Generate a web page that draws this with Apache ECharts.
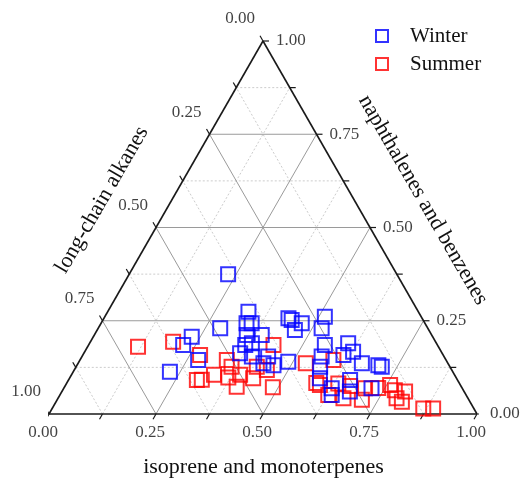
<!DOCTYPE html>
<html>
<head>
<meta charset="utf-8">
<script src="https://cdn.jsdelivr.net/npm/echarts@6/dist/echarts.min.js"></script>
<style>
  html, body { margin: 0; padding: 0; background: #fff; }
  #chart { width: 527px; height: 480px; }
</style>
</head>
<body>
<div id="chart"></div>
<script>
  // ternary fractions: isoprene (bottom axis), naphthalenes (right axis), alkanes (left axis)
  var winterIsoprene = [0.231,0.329,0.340,0.352,0.285,0.230,0.221,0.276,0.226,0.356,0.391,0.366,0.365,0.397,0.435,0.433,0.459,0.489,0.431,0.441,
                        0.469,0.462,0.514,0.522,0.552,0.560,0.570,0.585,0.604,0.609,0.627,0.663,0.704,0.714,0.658,0.673,0.626,0.635,0.719,0.379];
  var winterNaphth   = [0.375,0.274,0.243,0.243,0.230,0.207,0.185,0.145,0.113,0.212,0.212,0.185,0.163,0.154,0.154,0.136,0.131,0.140,0.257,0.252,
                        0.243,0.225,0.261,0.230,0.185,0.154,0.127,0.096,0.190,0.158,0.167,0.136,0.131,0.127,0.091,0.060,0.069,0.051,0.069,0.190];
  var winterAlkanes  = [0.394,0.397,0.417,0.405,0.485,0.563,0.594,0.579,0.661,0.432,0.397,0.449,0.472,0.449,0.411,0.431,0.410,0.371,0.312,0.307,
                        0.288,0.313,0.225,0.248,0.263,0.286,0.303,0.319,0.206,0.233,0.206,0.201,0.165,0.159,0.251,0.267,0.305,0.314,0.212,0.431];

  var summerIsoprene = [0.118,0.193,0.274,0.300,0.311,0.333,0.343,0.363,0.370,0.394,0.402,0.429,0.422,0.450,0.432,0.487,0.532,0.583,0.594,0.592,
                        0.635,0.627,0.667,0.712,0.704,0.734,0.758,0.776,0.802,0.791,0.808,0.867,0.890,0.666];
  var summerNaphth   = [0.180,0.194,0.158,0.091,0.092,0.105,0.145,0.127,0.098,0.105,0.073,0.096,0.127,0.118,0.185,0.072,0.136,0.083,0.078,0.145,
                        0.082,0.051,0.042,0.038,0.069,0.070,0.078,0.064,0.060,0.042,0.033,0.015,0.015,0.075];
  var summerAlkanes  = [0.702,0.613,0.568,0.609,0.597,0.562,0.512,0.510,0.532,0.501,0.525,0.475,0.451,0.432,0.383,0.441,0.332,0.334,0.328,0.263,
                        0.283,0.322,0.291,0.250,0.227,0.196,0.164,0.160,0.138,0.167,0.159,0.118,0.095,0.259];

  var majorTicks = [0, 0.25, 0.5, 0.75, 1];
  var tickLabels = ['0.00', '0.25', '0.50', '0.75', '1.00'];
  var minorTicks = [0.125, 0.375, 0.625, 0.875];

  var FONT = '"Liberation Serif", "Times New Roman", serif';
  var TEXT = '#111';
  var gridW = 428, gridH = 373;

  // ternary -> plane: x = a + b/2, y = b (y scaled by grid height)
  function toXY(a, b) {
    return [a + b / 2, b];
  }

  function ternaryPoints(aArr, bArr, cArr) {
    var out = [];
    for (var i = 0; i < aArr.length; i++) {
      var s = aArr[i] + bArr[i] + cArr[i];
      out.push(toXY(aArr[i] / s, bArr[i] / s));
    }
    return out;
  }

  function seg(p1, p2, style) {
    return {
      type: 'line', data: [p1, p2], symbol: 'none', silent: true, clip: false,
      lineStyle: style, z: 1
    };
  }

  var series = [];
  var majorStyle = { color: '#9a9a9a', width: 1 };
  var minorStyle = { color: '#cccccc', width: 1, type: [2, 2] };

  function gridLines(v, style) {
    // constant naphthalenes (horizontal)
    series.push(seg([v / 2, v], [1 - v / 2, v], style));
    // constant isoprene
    series.push(seg([v, 0], [(1 + v) / 2, 1 - v], style));
    // constant alkanes
    series.push(seg([1 - v, 0], [(1 - v) / 2, 1 - v], style));
  }
  minorTicks.forEach(function (v) { gridLines(v, minorStyle); });
  [0.25, 0.5, 0.75].forEach(function (v) { gridLines(v, majorStyle); });

  // triangle outline
  var edge = { color: '#1a1a1a', width: 1.6 };
  series.push(seg([0, 0], [1, 0], edge));
  series.push(seg([1, 0], [0.5, 1], edge));
  series.push(seg([0.5, 1], [0, 0], edge));

  // ticks (length ~6px)
  var tl = 6;
  var tickStyle = { color: '#1a1a1a', width: 1.2 };
  majorTicks.concat(minorTicks).forEach(function (v) {
    // bottom: down-left
    series.push(seg([v, 0], [v - 0.5 * tl / gridW, -0.866 * tl / gridH], tickStyle));
    // right: horizontal right
    series.push(seg([1 - v / 2, v], [1 - v / 2 + tl / gridW, v], tickStyle));
    // left: up-left
    var lp = [(1 - v) / 2, 1 - v];
    series.push(seg(lp, [lp[0] - 0.5 * tl / gridW, lp[1] + 0.866 * tl / gridH], tickStyle));
  });

  function labelSeries(points, labelOpt) {
    return {
      type: 'scatter', symbolSize: 0, silent: true, clip: false, z: 3,
      data: points.map(function (p, i) { return { value: p, name: tickLabels[i] }; }),
      label: Object.assign({
        show: true, formatter: '{b}', color: TEXT,
        fontFamily: FONT, fontSize: 17
      }, labelOpt)
    };
  }
  series.push(labelSeries(majorTicks.map(function (v) { return [v, 0]; }),
    { position: 'inside', offset: [-6, 19] }));
  series.push(labelSeries(majorTicks.map(function (v) { return [1 - v / 2, v]; }),
    { position: 'right', distance: 13 }));
  series.push(labelSeries(majorTicks.map(function (v) { return [(1 - v) / 2, 1 - v]; }),
    { position: 'inside', offset: [-23, -22] }));

  series.push({
    name: 'Summer', type: 'scatter', symbol: 'rect', symbolSize: 14, clip: false, z: 4,
    data: ternaryPoints(summerIsoprene, summerNaphth, summerAlkanes),
    itemStyle: { color: 'rgba(0,0,0,0)', borderColor: '#ff0000', borderWidth: 2 }
  });
  series.push({
    name: 'Winter', type: 'scatter', symbol: 'rect', symbolSize: 14, clip: false, z: 5,
    data: ternaryPoints(winterIsoprene, winterNaphth, winterAlkanes),
    itemStyle: { color: 'rgba(0,0,0,0)', borderColor: '#0000ff', borderWidth: 2 }
  });

  var chart = echarts.init(document.getElementById('chart'));
  chart.setOption({
    animation: false,
    backgroundColor: '#fff',
    grid: { left: 49, top: 41, width: gridW, height: gridH },
    xAxis: { type: 'value', min: 0, max: 1, show: false },
    yAxis: { type: 'value', min: 0, max: 1, show: false },
    legend: {
      data: ['Winter', 'Summer'],
      orient: 'vertical', left: 370, top: 20,
      icon: 'rect', itemWidth: 12, itemHeight: 12, itemGap: 6,
      textStyle: { fontFamily: FONT, fontSize: 21, color: TEXT, padding: [0, 0, 0, 17], lineHeight: 22 },
      selectedMode: false
    },
    graphic: [
      { type: 'text', left: 'center', top: 456, style: { text: 'isoprene and monoterpenes', font: '22px ' + FONT, fill: TEXT } },
      { type: 'text', x: 102, y: 200, rotation: Math.PI / 3,
        style: { text: 'long-chain alkanes', font: '22px ' + FONT, fill: TEXT, align: 'center', verticalAlign: 'middle' } },
      { type: 'text', x: 423, y: 200, rotation: -Math.PI / 3,
        style: { text: 'naphthalenes and benzenes', font: '22px ' + FONT, fill: TEXT, align: 'center', verticalAlign: 'middle' } }
    ],
    series: series
  });
</script>
</body>
</html>
